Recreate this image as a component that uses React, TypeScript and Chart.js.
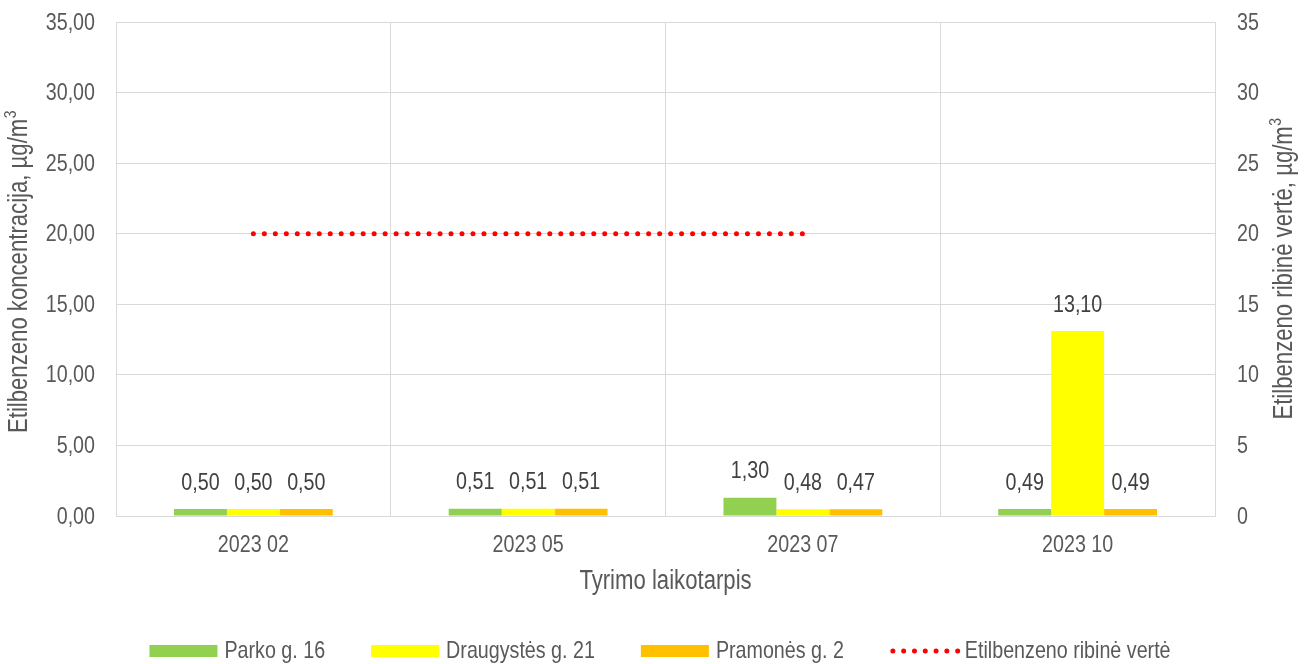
import React, { useEffect, useRef } from "react";
import { Chart, registerables } from "chart.js";

Chart.register(...registerables);

const categories = ["2023 02", "2023 05", "2023 07", "2023 10"];
const parko = [0.5, 0.51, 1.3, 0.49];
const draugystes = [0.5, 0.51, 0.48, 13.1];
const pramones = [0.5, 0.51, 0.47, 0.49];
const ribineVerte = [20, 20, 20, null];
const axisMax = 35;
const tickStep = 5;

const FONT = "'Liberation Sans', Arial, sans-serif";
const NARROW = 0.82;
const TEXT = "#595959";
const LABEL = "#404040";
const GRID = "#D9D9D9";

const fmt = (v: number) => v.toFixed(2).replace(".", ",");

function drawText(
  ctx: CanvasRenderingContext2D,
  s: string,
  x: number,
  y: number,
  size: number,
  align: CanvasTextAlign,
  color: string,
  rot = 0
) {
  ctx.save();
  ctx.translate(x, y);
  if (rot) ctx.rotate(rot);
  ctx.scale(NARROW, 1);
  ctx.font = `${size}px ${FONT}`;
  ctx.textAlign = align;
  ctx.textBaseline = "middle";
  ctx.fillStyle = color;
  ctx.fillText(s, 0, 0);
  ctx.restore();
}

function textW(ctx: CanvasRenderingContext2D, s: string, size: number) {
  ctx.save();
  ctx.font = `${size}px ${FONT}`;
  const w = ctx.measureText(s).width * NARROW;
  ctx.restore();
  return w;
}

// title with a superscript "3" at the end, centered at (x, y)
function drawTitleSup(
  ctx: CanvasRenderingContext2D,
  main: string,
  sup: string,
  x: number,
  y: number,
  size: number,
  rot: number
) {
  const supSize = Math.round(size * 0.62);
  const wMain = textW(ctx, main, size);
  const wSup = textW(ctx, sup, supSize);
  const total = wMain + wSup;
  ctx.save();
  ctx.translate(x, y);
  ctx.rotate(rot);
  drawText(ctx, main, -total / 2, 0, size, "left", TEXT);
  drawText(ctx, sup, -total / 2 + wMain + 0.5, -size * 0.33, supSize, "left", TEXT);
  ctx.restore();
}

const customPlugin = {
  id: "customDraw",
  afterDatasetsDraw(chart: any) {
    const ctx = chart.ctx;
    chart.data.datasets.forEach((ds: any, i: number) => {
      if (ds.type !== "bar") return;
      const meta = chart.getDatasetMeta(i);
      meta.data.forEach((el: any, j: number) => {
        const v = ds.data[j];
        if (v == null) return;
        drawText(ctx, fmt(v), el.x, el.y - 26, 24, "center", LABEL);
      });
    });
  },
  afterDraw(chart: any) {
    const ctx = chart.ctx;
    const area = chart.chartArea;
    const W = chart.width;
    const sy = chart.scales.y;
    const sy1 = chart.scales.y1;
    const sx = chart.scales.x;

    // tick labels
    sy.ticks.forEach((t: any) => {
      drawText(ctx, fmt(t.value), area.left - 21, sy.getPixelForValue(t.value) + 1, 24, "right", TEXT);
    });
    sy1.ticks.forEach((t: any) => {
      drawText(ctx, String(t.value), area.right + 22, sy1.getPixelForValue(t.value) + 1, 24, "left", TEXT);
    });
    categories.forEach((c, i) => {
      drawText(ctx, c, sx.getPixelForValue(i), 545, 24, "center", TEXT);
    });

    const cy = (area.top + area.bottom) / 2;
    drawTitleSup(ctx, "Etilbenzeno koncentracija, µg/m", "3", 20, cy + 3, 27, -Math.PI / 2);
    drawTitleSup(ctx, "Etilbenzeno ribinė vertė, µg/m", "3", 1285, cy, 27, -Math.PI / 2);
    drawText(ctx, "Tyrimo laikotarpis", (area.left + area.right) / 2, 582, 27, "center", TEXT);

    // legend
    const items = chart.data.datasets.map((ds: any) => ({
      label: ds.label,
      type: ds.type,
      color: ds.type === "bar" ? ds.backgroundColor : ds.borderColor,
    }));
    const boxW = 68;
    const boxH = 12;
    const gapBoxText = 7;
    const gapItems = 46;
    const widths = items.map((it: any) => boxW + gapBoxText + textW(ctx, it.label, 24));
    const total = widths.reduce((a: number, b: number) => a + b, 0) + gapItems * (items.length - 1);
    let x = W / 2 - total / 2 + 6;
    const ly = 651;
    items.forEach((it: any, k: number) => {
      ctx.save();
      if (it.type === "bar") {
        ctx.fillStyle = it.color;
        ctx.fillRect(x, ly - boxH / 2, boxW, boxH);
      } else {
        ctx.strokeStyle = it.color;
        ctx.lineWidth = 5;
        ctx.lineCap = "round";
        ctx.setLineDash([0, 10.8]);
        ctx.beginPath();
        ctx.moveTo(x + 3, ly);
        ctx.lineTo(x + boxW, ly);
        ctx.stroke();
      }
      ctx.restore();
      drawText(ctx, it.label, x + boxW + gapBoxText, ly, 24, "left", TEXT);
      x += widths[k] + gapItems;
    });
  },
};

export default function App() {
  const ref = useRef<HTMLCanvasElement | null>(null);
  useEffect(() => {
    document.body.style.margin = "0";
    if (!ref.current) return;
    const chart = new Chart(ref.current, {
      type: "bar",
      data: {
        labels: categories,
        datasets: [
          { type: "bar", label: "Parko g. 16", data: parko, backgroundColor: "#92D050", yAxisID: "y", order: 2 },
          { type: "bar", label: "Draugystės g. 21", data: draugystes, backgroundColor: "#FFFF00", yAxisID: "y", order: 2 },
          { type: "bar", label: "Pramonės g. 2", data: pramones, backgroundColor: "#FFC000", yAxisID: "y", order: 2 },
          {
            type: "line",
            label: "Etilbenzeno ribinė vertė",
            data: ribineVerte as any,
            borderColor: "#FF0000",
            backgroundColor: "#FF0000",
            borderWidth: 5,
            borderDash: [0, 10.98],
            borderCapStyle: "round",
            pointRadius: 0,
            pointHoverRadius: 0,
            fill: false,
            spanGaps: false,
            yAxisID: "y1",
            order: 1,
          } as any,
        ],
      },
      options: {
        responsive: false,
        animation: false,
        devicePixelRatio: 1,
        layout: { padding: { top: 22, left: 0, right: 0, bottom: 0 } },
        datasets: {
          bar: { categoryPercentage: 0.578, barPercentage: 1.0 },
        },
        plugins: {
          legend: { display: false },
          tooltip: { enabled: false },
          title: { display: false },
        },
        scales: {
          x: {
            type: "category",
            offset: true,
            grid: { display: true, offset: true, color: GRID, lineWidth: 1, drawTicks: false },
            border: { display: true, color: GRID, width: 1 },
            ticks: { display: false },
            afterFit: (s: any) => { s.height = 148; },
          },
          y: {
            type: "linear",
            position: "left",
            min: 0,
            max: axisMax,
            grid: { color: GRID, lineWidth: 1, drawTicks: false },
            border: { display: false },
            ticks: { stepSize: tickStep, display: false },
            afterFit: (s: any) => { s.width = 116; },
          },
          y1: {
            type: "linear",
            position: "right",
            min: 0,
            max: axisMax,
            grid: { display: false, drawTicks: false },
            border: { display: false },
            ticks: { stepSize: tickStep, display: false },
            afterFit: (s: any) => { s.width = 93; },
          },
        },
      },
      plugins: [customPlugin],
    });
    return () => chart.destroy();
  }, []);
  return (
    <div style={{ width: 1308, height: 664, background: "#fff" }}>
      <canvas ref={ref} width={1308} height={664} style={{ display: "block" }} />
    </div>
  );
}
